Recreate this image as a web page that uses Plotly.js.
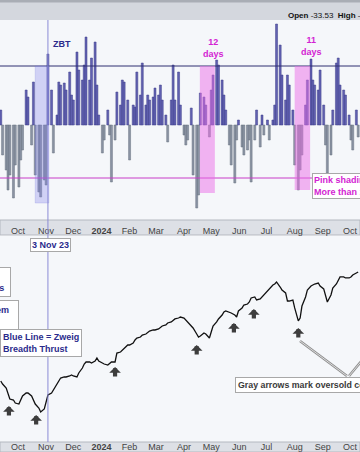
<!DOCTYPE html>
<html><head><meta charset="utf-8">
<script src="https://cdn.plot.ly/plotly-3.0.1.min.js"></script>
<style>html,body{margin:0;padding:0;background:#fff;overflow:hidden}#chart{width:360px;height:452px}</style>
</head><body><div id="chart"></div>
<script>
// ---- data ----
const firstBarDate = '2023-09-12';   // bars every 2nd trading day from here
const oscValues = [15,-30,-45,-65,-50,-73,-40,-62,-35,-25,
 35,28,-20,43,-50,-67,-72,-55,-60,71,
 35,-28,10,43,40,42,35,53,30,25,
 73,55,45,60,88,45,67,83,40,10,
 -28,-15,15,-10,-57,-15,33,20,45,43,
 25,-35,20,18,53,30,62,20,30,25,
 28,37,30,40,25,10,-17,25,60,25,
 53,20,-10,-20,-15,17,-50,-83,-70,32,
 28,20,-12,35,50,65,60,45,30,15,
 -20,-40,-58,-15,5,-22,-30,-25,-15,-57,
 -15,15,-22,10,-10,5,-15,5,20,101,
 80,50,25,50,40,15,-40,-65,-45,-30,
 20,45,66,45,40,35,55,20,-20,-48,
 -30,15,62,67,40,35,30,10,-15,-25,
 15,-12];
const priceValues = [4499,4463,4415,4344,4284,4272,4236,4224,4284,4320,
 4356,4356,4320,4272,4224,4177,4129,4165,4248,4332,
 4356,4392,4451,4499,4535,4547,4547,4559,4571,4559,
 4547,4595,4654,4702,4726,4726,4714,4738,4774,4738,
 4714,4702,4690,4714,4726,4726,4833,4845,4869,4893,
 4929,4929,4953,4989,5012,5024,5048,5060,5084,5096,
 5108,5108,5120,5144,5156,5168,5192,5204,5228,5240,
 5251,5263,5251,5228,5192,5156,5132,5060,5024,5036,
 5072,5060,5012,5084,5156,5204,5240,5287,5323,5335,
 5323,5311,5287,5263,5335,5371,5406,5418,5442,5490,
 5502,5466,5478,5502,5538,5574,5609,5645,5657,5681,
 5621,5586,5550,5454,5454,5466,5371,5216,5251,5394,
 5502,5586,5633,5645,5657,5669,5633,5598,5502,5442,
 5526,5609,5657,5705,5741,5741,5729,5729,5741,5765,
 5789,5800];
const monthTicks = ['2023-10-01','2023-11-01','2023-12-01','2024-01-01','2024-02-01','2024-03-01','2024-04-01','2024-05-01','2024-06-01','2024-07-01','2024-08-01','2024-09-01','2024-10-01'];
const monthLabels = ['Oct','Nov','Dec','<b>2024</b>','Feb','Mar','Apr','May','Jun','Jul','Aug','Sep','Oct'];
const zbtDate = '2023-11-03';
const zbtWindow = ['2023-10-20','2023-11-04'];
const zbtWindowLevels = [-78, 59];
const oversoldWindows = [['2024-04-18T12:00','2024-05-05'],['2024-08-01','2024-08-18']];
const oversoldWindowLevels = [[-68, 59],[-65, 59]];
const thrustLevel = 59;
const oversoldLevel = -53;
const arrowDates = ['2023-09-21','2023-10-21','2024-01-16','2024-04-15','2024-05-26','2024-06-17','2024-08-05'];
const arrowLevels = [4201,4093,4666,4929,5192,5359,5132];

// ---- helpers ----
function everyOtherTradingDay(start, n){
  const out=[]; const d=new Date(start+'T00:00:00Z'); let c=0;
  while(out.length<n){
    const wd=d.getUTCDay();
    if(wd!==0&&wd!==6){ if(c%2===0) out.push(d.toISOString().slice(0,10)); c++; }
    d.setUTCDate(d.getUTCDate()+1);
  }
  return out;
}
const W=360,H=452;
const px=x=>x/W, py=y=>1-y/H;
const dates = everyOtherTradingDay(firstBarDate, oscValues.length);
const xRange = ['2023-09-11 04:00','2024-10-12'];
const DAY=86400000;

const bars = {
  type:'bar', x:dates, y:oscValues, xaxis:'x', yaxis:'y', width:2.2*DAY,
  marker:{color:oscValues.map(v=>v>=0?'#6262b2':'#8b94a4'),
          line:{color:oscValues.map(v=>v>=0?'#3c3c88':'#66707e'),width:0.5}},
  hoverinfo:'skip'
};
const price = {
  type:'scatter', mode:'lines', x:dates, y:priceValues, xaxis:'x2', yaxis:'y2',
  line:{color:'#111111',width:1.3}, hoverinfo:'skip'
};

const shapes = [
  {type:'rect',xref:'paper',yref:'paper',x0:0,x1:1,y0:py(20),y1:1,fillcolor:'#d4d7de',line:{width:0},layer:'below'},
  {type:'rect',xref:'paper',yref:'paper',x0:0,x1:1,y0:py(2.5),y1:1,fillcolor:'#a9adb5',line:{width:0},layer:'below'},
  {type:'rect',xref:'paper',yref:'paper',x0:0,x1:1,y0:py(235),y1:py(220),fillcolor:'#dde0e6',line:{color:'#b4b8c0',width:1},layer:'below'},
  {type:'rect',xref:'paper',yref:'paper',x0:0,x1:1,y0:0,y1:py(442),fillcolor:'#dde0e6',line:{color:'#b4b8c0',width:1},layer:'below'},
  {type:'line',xref:'paper',yref:'y',x0:0,x1:1,y0:thrustLevel,y1:thrustLevel,line:{color:'#2e2e70',width:1},layer:'above'},
  {type:'line',xref:'paper',yref:'y',x0:0,x1:1,y0:oversoldLevel,y1:oversoldLevel,line:{color:'#c83cc8',width:1},layer:'above'},
  {type:'rect',xref:'x',yref:'y',x0:zbtWindow[0],x1:zbtWindow[1],y0:zbtWindowLevels[0],y1:zbtWindowLevels[1],fillcolor:'rgba(130,130,235,0.32)',line:{color:'rgba(120,120,220,0.45)',width:0.5},layer:'above'},
  {type:'line',xref:'x',yref:'paper',x0:zbtDate,x1:zbtDate,y0:py(442),y1:py(20),line:{color:'#8c8cd6',width:1},layer:'above'},
  {type:'line',xref:'paper',yref:'paper',x0:px(347),y0:py(376),x1:px(300),y1:py(341),line:{color:'#8f8f8f',width:2.6},layer:'above'},
  {type:'line',xref:'paper',yref:'paper',x0:px(347),y0:py(376),x1:px(300),y1:py(341),line:{color:'#f0f0f0',width:0.8},layer:'above'},
  {type:'line',xref:'paper',yref:'paper',x0:px(349),y0:py(376),x1:px(364),y1:py(358),line:{color:'#8f8f8f',width:2.6},layer:'above'},
  {type:'line',xref:'paper',yref:'paper',x0:px(349),y0:py(376),x1:px(364),y1:py(358),line:{color:'#f0f0f0',width:0.8},layer:'above'}
];
oversoldWindows.forEach((w,i)=>{
  shapes.push({type:'rect',xref:'x',yref:'y',x0:w[0],x1:w[1],y0:oversoldWindowLevels[i][0],y1:oversoldWindowLevels[i][1],
    fillcolor:'rgba(236,110,232,0.5)',line:{width:0},layer:'above'});
});

const navy='#2b2b8c', mag='#d323d3';
const annotations = [
  {xref:'paper',yref:'paper',x:px(286),y:py(15.5),xanchor:'left',yanchor:'middle',showarrow:false,
   text:'<b>Open</b> -33.53&nbsp;&nbsp;<b>High</b> -18.12',font:{size:8,color:'#111'}},
  {xref:'paper',yref:'paper',x:px(50.5),y:py(44.5),xanchor:'left',yanchor:'middle',showarrow:false,
   text:'<b>ZBT</b>',font:{size:9,color:navy}},
  {xref:'paper',yref:'paper',x:px(213.5),y:py(47.5),xanchor:'center',yanchor:'middle',showarrow:false,
   text:'<b>12<br>days</b>',font:{size:9,color:mag}},
  {xref:'paper',yref:'paper',x:px(311.5),y:py(46.5),xanchor:'center',yanchor:'middle',showarrow:false,
   text:'<b>11<br>days</b>',font:{size:9,color:mag}},
  {xref:'paper',yref:'paper',x:px(312),y:py(185.5),xanchor:'left',yanchor:'middle',showarrow:false,align:'left',
   text:'<b>Pink shading = Oversold for<br>More than 10 days</b>',font:{size:9,color:mag},
   bgcolor:'#ffffff',bordercolor:'#a8a8a8',borderwidth:1,borderpad:1},
  {xref:'paper',yref:'paper',x:px(30),y:py(238),xanchor:'left',yanchor:'top',showarrow:false,
   text:'<b>3 Nov 23</b>',font:{size:9,color:navy},
   bgcolor:'#ffffff',bordercolor:'#a8a8a8',borderwidth:1,borderpad:1},
  {xref:'paper',yref:'paper',x:px(11),y:py(267),xanchor:'right',yanchor:'top',showarrow:false,align:'left',
   text:'<b>Bottom Panel<br>S&P 500 with arrows&nbsp;</b>',font:{size:9,color:navy},
   bgcolor:'#ffffff',bordercolor:'#a8a8a8',borderwidth:1,borderpad:3},
  {xref:'paper',yref:'paper',x:px(19),y:py(300),xanchor:'right',yanchor:'top',showarrow:false,align:'left',
   text:'<b>Oversold Signal System&nbsp;&nbsp;<br>Arrows</b>',font:{size:9,color:navy},
   bgcolor:'#ffffff',bordercolor:'#a8a8a8',borderwidth:1,borderpad:4},
  {xref:'paper',yref:'paper',x:px(82),y:py(329),xanchor:'right',yanchor:'top',showarrow:false,align:'left',
   text:'<b>Blue Line = Zweig<br>Breadth Thrust</b>',font:{size:9,color:navy},
   bgcolor:'#ffffff',bordercolor:'#a8a8a8',borderwidth:1,borderpad:2},
  {xref:'paper',yref:'paper',x:px(235),y:py(377),xanchor:'left',yanchor:'top',showarrow:false,align:'left',
   text:'<b>Gray arrows mark oversold conditions</b>',font:{size:8.8,color:'#3a3a3a'},
   bgcolor:'#ffffff',bordercolor:'#a8a8a8',borderwidth:1,borderpad:2}
];
arrowDates.forEach((d,i)=>{
  annotations.push({xref:'x2',yref:'y2',x:d,y:arrowLevels[i],text:'',showarrow:true,
    ax:0,ay:11,arrowhead:1,arrowsize:0.46,arrowwidth:4.2,arrowcolor:'#3d3d3d',standoff:0});
});

const fontFam='Arial, "Liberation Sans", sans-serif';
const xCommon = {type:'date',range:xRange,tickvals:monthTicks,ticktext:monthLabels,ticks:'',
  showgrid:false,zeroline:false,showline:false,fixedrange:true,tickfont:{size:9,color:'#444',family:fontFam}};
const layout = {
  width:W,height:H,margin:{l:0,r:0,t:0,b:0},
  paper_bgcolor:'#ffffff',plot_bgcolor:'#f5f7fa',showlegend:false,
  font:{family:fontFam,size:9,color:'#333'},
  bargap:0,
  xaxis:Object.assign({},xCommon,{domain:[0,1],anchor:'free',overlaying:false,position:py(223.5)}),
  xaxis2:Object.assign({},xCommon,{domain:[0,1],anchor:'free',position:py(439.5)}),
  yaxis:{domain:[py(220),py(20)],range:[-95,105],showticklabels:false,showgrid:false,zeroline:false,ticks:'',fixedrange:true},
  yaxis2:{domain:[py(442),py(236)],range:[3771,6230],showticklabels:false,showgrid:false,zeroline:false,ticks:'',fixedrange:true},
  shapes:shapes, annotations:annotations
};
delete layout.xaxis.overlaying;
Plotly.newPlot('chart',[bars,price],layout,{staticPlot:true,displayModeBar:false});
</script></body></html>
